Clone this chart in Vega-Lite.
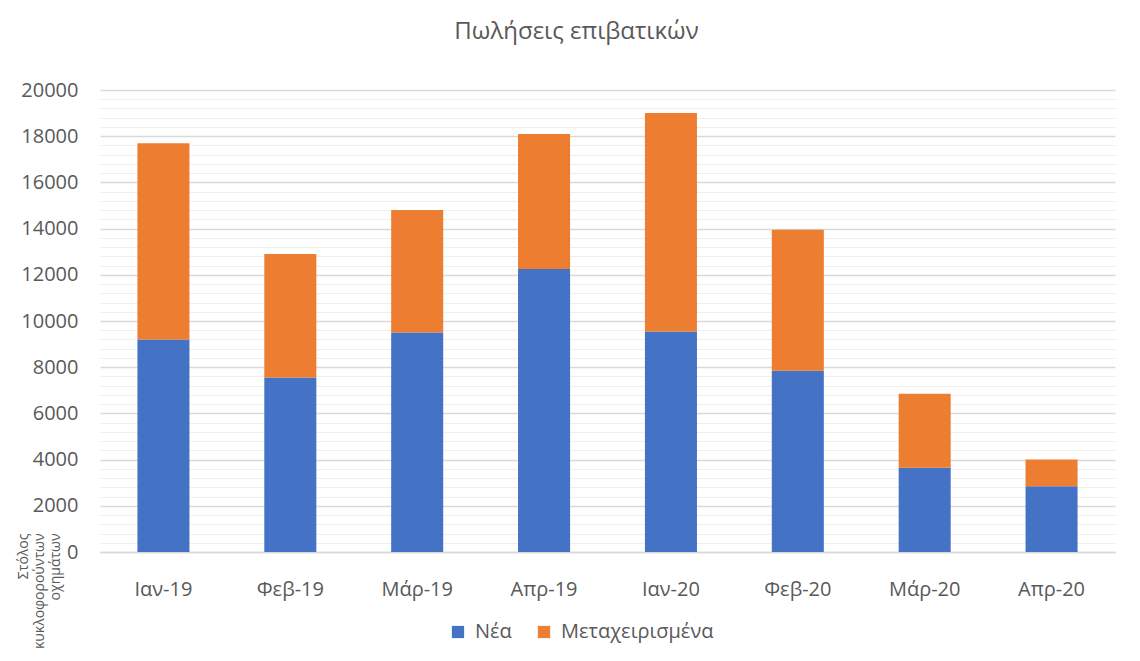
{
  "$schema": "https://vega.github.io/schema/vega-lite/v6.json",
  "width": 1015,
  "height": 462,
  "autosize": {"type": "none"},
  "padding": {"left": 100, "top": 90, "right": 25, "bottom": 109},
  "background": "white",
  "title": {
    "text": "Πωλήσεις επιβατικών",
    "font": "Open Sans",
    "fontSize": 24,
    "fontWeight": "normal",
    "color": "#595959",
    "anchor": "middle",
    "baseline": "alphabetic",
    "offset": 45,
    "dx": -31,
    "dy": 28
  },
  "data": {
    "values": [
      {"month": "Ιαν-19", "type": "Νέα", "value": 9200},
      {"month": "Ιαν-19", "type": "Μεταχειρισμένα", "value": 8500},
      {"month": "Φεβ-19", "type": "Νέα", "value": 7550},
      {"month": "Φεβ-19", "type": "Μεταχειρισμένα", "value": 5350},
      {"month": "Μάρ-19", "type": "Νέα", "value": 9500},
      {"month": "Μάρ-19", "type": "Μεταχειρισμένα", "value": 5300},
      {"month": "Απρ-19", "type": "Νέα", "value": 12250},
      {"month": "Απρ-19", "type": "Μεταχειρισμένα", "value": 5850},
      {"month": "Ιαν-20", "type": "Νέα", "value": 9550},
      {"month": "Ιαν-20", "type": "Μεταχειρισμένα", "value": 9450},
      {"month": "Φεβ-20", "type": "Νέα", "value": 7850},
      {"month": "Φεβ-20", "type": "Μεταχειρισμένα", "value": 6100},
      {"month": "Μάρ-20", "type": "Νέα", "value": 3650},
      {"month": "Μάρ-20", "type": "Μεταχειρισμένα", "value": 3200},
      {"month": "Απρ-20", "type": "Νέα", "value": 2850},
      {"month": "Απρ-20", "type": "Μεταχειρισμένα", "value": 1150}
    ]
  },
  "layer": [
    {
      "mark": {"type": "bar", "opacity": 0},
      "encoding": {
        "x": {"field": "month", "type": "nominal", "sort": null,
              "scale": {"paddingInner": 0.59, "paddingOuter": 0.295},
              "axis": {
                "title": null, "labelAngle": 0, "labelAlign": "center", "ticks": false,
                "labelPadding": 27, "labelFont": "Open Sans", "labelFontSize": 20,
                "labelColor": "#595959", "domain": true, "domainColor": "#d9d9d9", "domainWidth": 1.5
              }},
        "y": {
          "field": "value", "type": "quantitative", "aggregate": "sum",
          "scale": {"domain": [0, 20000], "nice": false},
          "axis": {
            "orient": "left",
            "values": [400, 800, 1200, 1600, 2400, 2800, 3200, 3600, 4400, 4800, 5200, 5600, 6400, 6800, 7200, 7600, 8400, 8800, 9200, 9600, 10400, 10800, 11200, 11600, 12400, 12800, 13200, 13600, 14400, 14800, 15200, 15600, 16400, 16800, 17200, 17600, 18400, 18800, 19200, 19600],
            "labels": false, "ticks": false, "domain": false, "title": null,
            "grid": true, "gridColor": "#eeeeee", "gridWidth": 1
          }
        }
      }
    },
    {
      "mark": {"type": "bar"},
      "encoding": {
        "x": {
          "field": "month", "type": "nominal", "sort": null,
          "scale": {"paddingInner": 0.59, "paddingOuter": 0.295},
          "axis": {
            "title": null, "labelAngle": 0, "labelAlign": "center", "ticks": false,
            "labelPadding": 27, "labelFont": "Open Sans", "labelFontSize": 20,
            "labelColor": "#595959", "domain": true, "domainColor": "#d9d9d9", "domainWidth": 1.5
          }
        },
        "y": {
          "field": "value", "type": "quantitative",
          "scale": {"domain": [0, 20000], "nice": false},
          "stack": "zero",
          "axis": {
            "orient": "left",
            "values": [0, 2000, 4000, 6000, 8000, 10000, 12000, 14000, 16000, 18000, 20000],
            "format": "d",
            "ticks": false, "domain": false, "labelPadding": 22,
            "labelFont": "Open Sans", "labelFontSize": 20, "labelColor": "#595959",
            "grid": true, "gridColor": "#d9d9d9", "gridWidth": 1.5,
            "title": ["Στόλος", "κυκλοφορούντων", "οχημάτων"],
            "titleFont": "Open Sans", "titleFontSize": 14, "titleFontWeight": "normal",
            "titleColor": "#595959", "titleAngle": -90, "titleAlign": "right",
            "titleBaseline": "middle", "titleX": -77, "titleY": 443, "titleLineHeight": 16
          }
        },
        "color": {
          "field": "type", "type": "nominal",
          "scale": {"domain": ["Νέα", "Μεταχειρισμένα"], "range": ["#4472C4", "#ED7D31"]},
          "legend": {
            "title": null, "orient": "none", "direction": "horizontal",
            "legendX": 348, "legendY": 532,
            "symbolType": "square", "symbolSize": 150, "symbolStrokeWidth": 0,
            "labelFont": "Open Sans", "labelFontSize": 20, "labelColor": "#595959",
            "labelLimit": 400, "columnPadding": 22, "labelOffset": 7
          }
        },
        "order": {"field": "type", "sort": "descending"}
      }
    }
  ],
  "resolve": {"axis": {"y": "independent"}, "scale": {"y": "shared"}},
  "config": {"view": {"stroke": null}}
}
